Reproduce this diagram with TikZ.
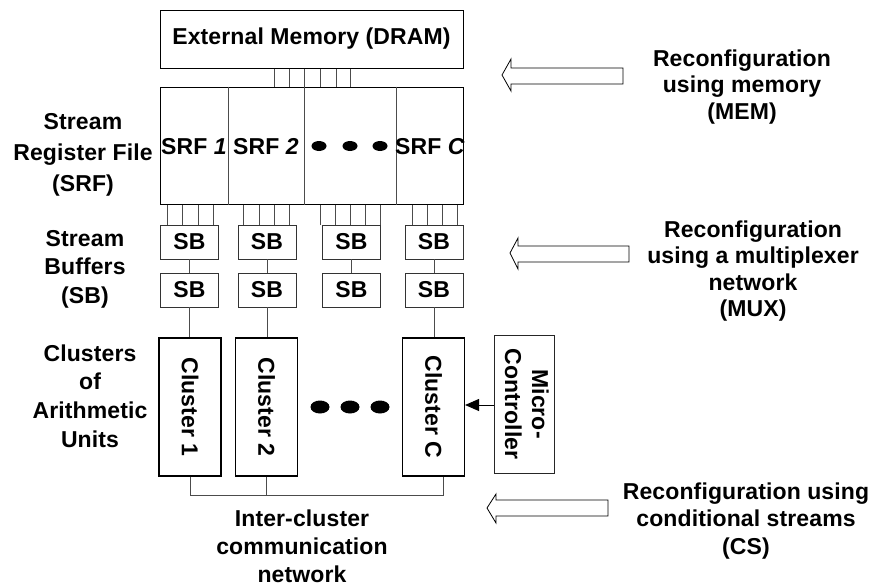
\documentclass[tikz,border=0pt]{standalone}
\usepackage{fontspec}
\setmainfont{Liberation Sans}[LetterSpace=0.5]
\usepackage{graphicx}
\usetikzlibrary{arrows.meta}
\begin{document}
\begin{tikzpicture}[x=1pt,y=-1pt,
  font=\bfseries\fontsize{23}{27}\selectfont,
  box/.style={draw=black, line width=1pt, inner sep=0pt},
  sbbox/.style={draw=black!80, line width=0.9pt, minimum width=58pt, minimum height=34pt, inner sep=0pt},
  clbox/.style={draw=black, line width=1.1pt, minimum width=62pt, minimum height=138pt, inner sep=0pt},
  wire/.style={draw=black!70, line width=0.9pt},
  txt/.style={font=\bfseries\fontsize{23}{#1}\selectfont, align=center, inner sep=0pt},
  txt/.default=27,
  blockarrow/.style={draw=black, line width=0.8pt, fill=white}]
\useasboundingbox (0,0) rectangle (873,587);

% External memory and SRF
\node[box, minimum width=303pt, minimum height=58pt] (dram) at (311.5,39) {External Memory (DRAM)};
\node[box, minimum width=303pt, minimum height=117pt] (srf) at (311.5,145.5) {};
\foreach \x in {228,304,396} \draw[wire] (\x,0 |- srf.north) -- (\x,0 |- srf.south);
\foreach \x in {274,289,304,320,336,350} \draw[wire] (\x,0 |- dram.south) -- (\x,0 |- srf.north);
\node (srf1) at (194,147) {SRF \textit{1}};
\node (srf2) at (266,147) {SRF \textit{2}};
\node (srfc) at (430,147) {SRF \textit{C}};
\foreach \x in {319,350,380} \fill (\x,146) ellipse [x radius=7.5, y radius=5];

% Stream buffers
\foreach \i/\x in {1/189.5,2/267,3/351.5,4/434} {
  \node[sbbox] (sba\i) at (\x,242) {SB};
  \node[sbbox] (sbb\i) at (\x,290) {SB};
  \draw[wire] (sba\i) -- (sbb\i);
}
\foreach \x in {167,182,198,213} \draw[wire] (\x,0 |- srf.south) -- (\x,0 |- sba1.north);
\foreach \x in {243,259,274,289} \draw[wire] (\x,0 |- srf.south) -- (\x,0 |- sba2.north);
\foreach \x in {320,335,350,365,380} \draw[wire] (\x,0 |- srf.south) -- (\x,0 |- sba3.north);
\foreach \x in {412,427,442,457} \draw[wire] (\x,0 |- srf.south) -- (\x,0 |- sba4.north);

% Clusters
\node[clbox] (cl1) at (190,407) {\rotatebox{-90}{Cluster 1}};
\node[clbox] (cl2) at (266.5,407) {\rotatebox{-90}{Cluster 2}};
\node[clbox] (clC) at (433.5,407) {\rotatebox{-90}{Cluster C}};
\draw[wire] (sbb1.south) -- (sbb1.south |- cl1.north);
\draw[wire] (sbb2.south) -- (sbb2.south |- cl2.north);
\draw[wire] (sbb4.south) -- (sbb4.south |- clC.north);
\foreach \x in {320,350,380} \fill (\x,407) ellipse [x radius=9.5, y radius=6.5];

% Micro-controller
\node[box, draw=black!85, minimum width=60pt, minimum height=138pt] (mc) at (524,404)
  {\rotatebox{-90}{\begin{tabular}{@{}c@{}}Micro-\\Controller\end{tabular}}};
\draw[line width=1pt, -{Triangle[length=14pt,width=12pt]}] (mc.west |- 0,405) -- (clC.east |- 0,405);

% Inter-cluster network
\coordinate (busR) at (443,495);
\draw[wire] (cl1.south) -- (cl1.south |- busR) -- (busR) -- (busR |- clC.south);
\draw[wire] (cl2.south) -- (cl2.south |- busR);

% Left labels
\node[txt=31] (lsrf) at (83,155) {Stream\\Register File\\(SRF)};
\node[txt=28.5] (lsb) at (85,269) {Stream\\Buffers\\(SB)};
\node[txt=28.7] (lcl) at (90,396) {Clusters\\of\\Arithmetic\\Units};
\node[txt=28] (lnet) at (302,546) {Inter-cluster\\communication\\network};

% Right labels
\node[txt=26.5] (rmem) at (742,87) {Reconfiguration\\using memory\\(MEM)};
\node[txt=26.5] (rmux) at (753,271) {Reconfiguration\\using a multiplexer\\network\\(MUX)};
\node[txt=27.5] (rcs) at (746,521) {Reconfiguration using\\conditional streams\\(CS)};

% Block arrows
\draw[blockarrow] (502,75) -- (511,59) -- (511,68) -- (623,68) -- (623,84) -- (511,84) -- (511,91) -- cycle;
\draw[blockarrow] (510,253) -- (518,238) -- (518,246) -- (629,246) -- (629,262) -- (518,262) -- (518,269) -- cycle;
\draw[blockarrow] (487,508) -- (496,494) -- (496,500) -- (608,500) -- (608,516) -- (496,516) -- (496,523) -- cycle;
\end{tikzpicture}
\end{document}
